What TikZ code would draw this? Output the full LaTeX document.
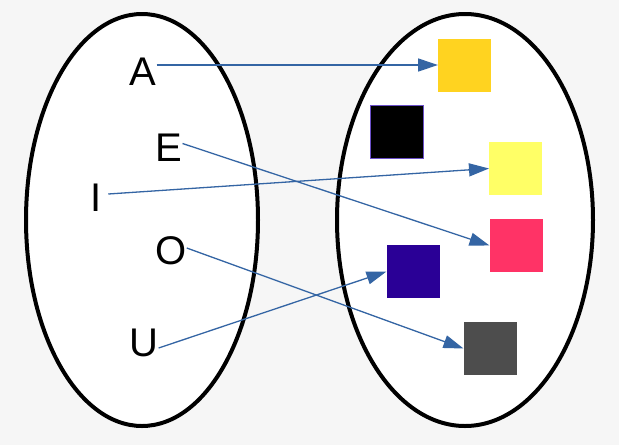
\documentclass[tikz,border=0pt]{standalone}
\usepackage{fontspec}
\setmainfont{Liberation Sans}
\usetikzlibrary{arrows.meta}
\definecolor{bgc}{HTML}{F6F6F6}
\definecolor{arrc}{HTML}{3465A4}
\definecolor{cgold}{HTML}{FFD320}
\definecolor{cblack}{HTML}{000000}
\definecolor{cpurp}{HTML}{6A4FC8}
\definecolor{clyel}{HTML}{FFFF66}
\definecolor{cpink}{HTML}{FF3366}
\definecolor{cindigo}{HTML}{2A0096}
\definecolor{cgray}{HTML}{4D4D4D}
\tikzset{
  setell/.style={draw=black, line width=4pt, fill=white},
  letter/.style={inner sep=0pt, font=\fontsize{40}{40}\selectfont},
  sq/.style={minimum width=53pt, minimum height=53pt, inner sep=0pt, outer sep=0pt},
  mapar/.style={draw=arrc, line width=1.3pt, -{Triangle[length=20pt,width=13pt]}}
}
\begin{document}
\begin{tikzpicture}[x=1pt,y=-1pt]
\useasboundingbox (0,0) rectangle (619,445);
\fill[bgc] (0,0) rectangle (619,445);
% sets
\draw[setell] (142,220) ellipse [x radius=116, y radius=206];
\draw[setell] (465,220) ellipse [x radius=128, y radius=206];
% letters
\node[letter] (A) at (143,71.5) {A};
\node[letter] (E) at (169,147.5) {E};
\node[letter] (I) at (96.5,198) {I};
\node[letter] (O) at (171,251) {O};
\node[letter] (U) at (144,343) {U};
% squares
\node[sq, fill=cgold] (s1) at (464.5,65) {};
\node[sq, fill=cblack, draw=cpurp, line width=1pt] (s2) at (397,131.5) {};
\node[sq, fill=clyel] (s3) at (515.5,168.5) {};
\node[sq, fill=cpink] (s4) at (516,245.5) {};
\node[sq, fill=cindigo] (s5) at (413,271.5) {};
\node[sq, fill=cgray] (s6) at (490,348.5) {};
% mapping
\draw[mapar] ([yshift=6.5pt]A.east) -- (s1.west);
\draw[mapar] ([yshift=4pt]E.east) -- (s4.west);
\draw[mapar] ([xshift=6pt,yshift=4pt]I.east) -- (s3.west);
\draw[mapar] ([yshift=3pt]O.east) -- (s6.west);
\draw[mapar] ([yshift=-5pt]U.east) -- (s5.west);
\end{tikzpicture}
\end{document}
